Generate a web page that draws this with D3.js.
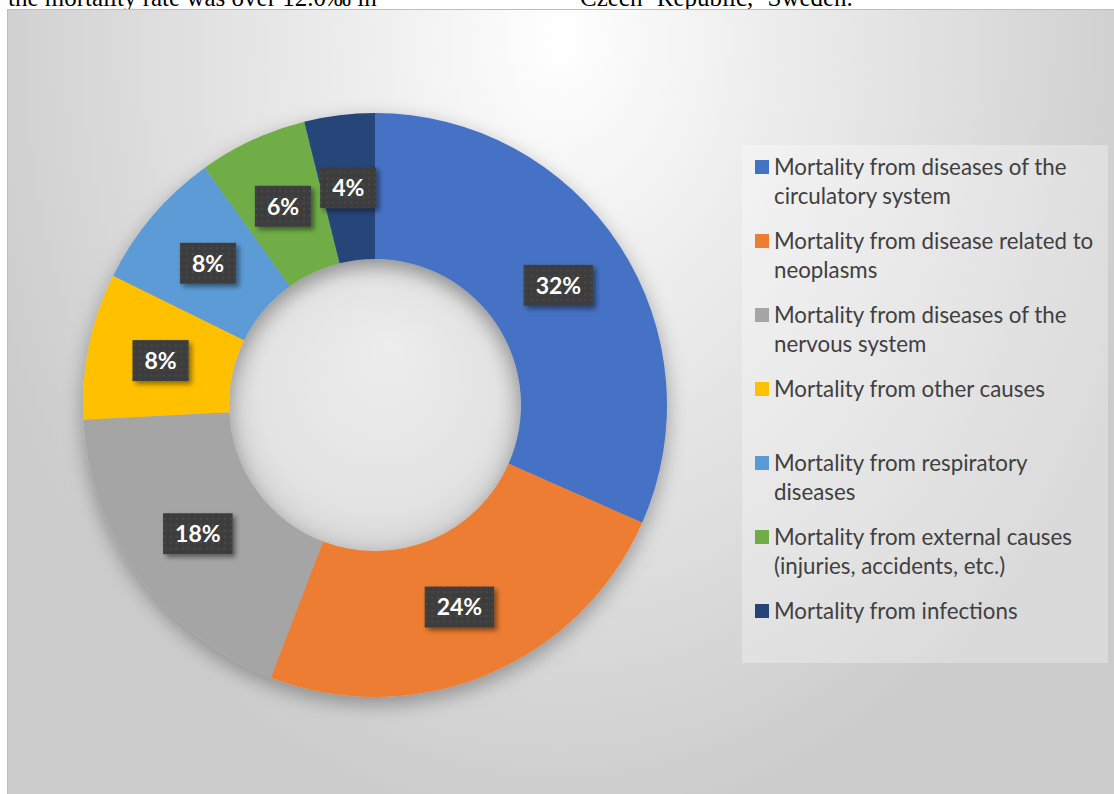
<!DOCTYPE html>
<html>
<head>
<meta charset="utf-8">
<script src="https://cdn.jsdelivr.net/npm/d3@7"></script>
<style>
  body { margin: 0; background: #fff; }
  svg { display: block; }
</style>
</head>
<body>
<svg id="chart_svg" width="1114" height="794"></svg>
<script>
// causes of death, share of total (%)
const categories = [
    ["Mortality from diseases of the", "circulatory system"],
    ["Mortality from disease related to", "neoplasms"],
    ["Mortality from diseases of the", "nervous system"],
    ["Mortality from other causes"],
    ["Mortality from respiratory", "diseases"],
    ["Mortality from external causes", "(injuries, accidents, etc.)"],
    ["Mortality from infections"]
];
const values = [31.6, 24.2, 18.4, 8.1, 7.8, 6.0, 3.9];
const colors = ['#4472C4', '#ED7D31', '#A5A5A5', '#FFC000', '#5B9BD5', '#70AD47', '#264478'];

// text from the page above the chart (cut off by the crop)
const topTexts = ["the mortality rate was over 12.0\u2030 in", "Czech Republic, Sweden."];
const topTextX = [8, 580];
const topTextW = [364, 292];

const svg = d3.select("#chart_svg");
const defs = svg.append("defs");

// background radial gradient
const bg = defs.append("radialGradient")
    .attr("id", "bgGrad")
    .attr("gradientUnits", "userSpaceOnUse")
    .attr("cx", 560).attr("cy", 40).attr("r", 620)
    .attr("gradientTransform", "translate(560,40) scale(1,1.3) translate(-560,-40)");
bg.append("stop").attr("offset", 0).attr("stop-color", "#ffffff");
bg.append("stop").attr("offset", 0.3).attr("stop-color", "#efefef");
bg.append("stop").attr("offset", 0.65).attr("stop-color", "#dedede");
bg.append("stop").attr("offset", 1).attr("stop-color", "#cbcbcb");

// hole shading
const hole = defs.append("radialGradient")
    .attr("id", "holeGrad")
    .attr("cx", "50%").attr("cy", "50%").attr("r", "50%")
    .attr("fx", "55%").attr("fy", "30%");
hole.append("stop").attr("offset", 0).attr("stop-color", "#ededed");
hole.append("stop").attr("offset", 0.8).attr("stop-color", "#e3e3e3");
hole.append("stop").attr("offset", 1).attr("stop-color", "#d4d4d4");

// shadows
defs.append("filter").attr("id", "ringShadow")
    .attr("x", "-20%").attr("y", "-20%").attr("width", "140%").attr("height", "140%")
    .append("feDropShadow")
    .attr("dx", 0).attr("dy", 7).attr("stdDeviation", 10)
    .attr("flood-color", "#000").attr("flood-opacity", 0.33);
defs.append("filter").attr("id", "boxShadow")
    .attr("x", "-30%").attr("y", "-30%").attr("width", "170%").attr("height", "170%")
    .append("feDropShadow")
    .attr("dx", 3).attr("dy", 3).attr("stdDeviation", 2.5)
    .attr("flood-color", "#000").attr("flood-opacity", 0.45);

// dotted fill of the data labels
const pat = defs.append("pattern")
    .attr("id", "dots").attr("patternUnits", "userSpaceOnUse")
    .attr("width", 6).attr("height", 6);
pat.append("rect").attr("width", 6).attr("height", 6).attr("fill", "#3d3d3d");
pat.append("circle").attr("cx", 3).attr("cy", 3).attr("r", 0.8).attr("fill", "#5a5a5a");

// page text above the chart, justified
topTexts.forEach((t, i) => {
    const txt = svg.append("text")
        .attr("x", topTextX[i]).attr("y", 6)
        .style("font-family", "'Liberation Serif', 'Times New Roman', serif")
        .style("font-size", "25px")
        .text(t);
    const natural = txt.node().getComputedTextLength();
    const gaps = t.split(" ").length - 1;
    const extra = Math.min(8, Math.max(0, (topTextW[i] - natural) / gaps));
    txt.style("word-spacing", extra + "px");
});

// chart area
svg.append("rect")
    .attr("x", 7.5).attr("y", 9.5)
    .attr("width", 1120).attr("height", 800)
    .attr("fill", "url(#bgGrad)")
    .attr("stroke", "#bdbdbd").attr("stroke-width", 1);

const cx = 375, cy = 405;
const outerR = 292, innerR = 146;

const pie = d3.pie().sort(null).value(d => d);
const arcs = pie(values);
const arc = d3.arc().innerRadius(innerR).outerRadius(outerR);
const total = d3.sum(values);

const g = svg.append("g").attr("transform", `translate(${cx},${cy})`);

g.append("circle").attr("r", innerR + 1).attr("fill", "url(#holeGrad)");

g.append("g").attr("filter", "url(#ringShadow)")
    .selectAll("path")
    .data(arcs)
    .join("path")
    .attr("d", arc)
    .attr("fill", (d, i) => colors[i]);

// data labels
const labels = g.selectAll(".lbl")
    .data(arcs)
    .join("g")
    .attr("class", "lbl")
    .attr("transform", d => `translate(${arc.centroid(d)})`);

labels.append("rect").attr("class", "box");
labels.append("text")
    .attr("text-anchor", "middle")
    .attr("dy", "0.36em")
    .style("font-family", "Lato, 'Open Sans', sans-serif")
    .style("font-weight", "bold")
    .style("font-size", "23px")
    .attr("fill", "#fff")
    .text(d => Math.round(d.value / total * 100) + "%");

labels.each(function () {
    const grp = d3.select(this);
    const w = grp.select("text").node().getComputedTextLength() + 24;
    grp.select("rect.box")
        .attr("x", -w / 2).attr("y", -20.5)
        .attr("width", w).attr("height", 41)
        .attr("fill", "url(#dots)")
        .attr("filter", "url(#boxShadow)");
});

// legend
const legend = svg.append("g");
legend.append("rect")
    .attr("x", 742).attr("y", 145)
    .attr("width", 366).attr("height", 518)
    .attr("fill", "#ffffff").attr("fill-opacity", 0.3);

const itemStep = 74, lineStep = 29;
const items = legend.selectAll(".item")
    .data(categories)
    .join("g")
    .attr("class", "item")
    .attr("transform", (d, i) => `translate(755,${167 + i * itemStep})`);

items.append("rect")
    .attr("x", 0).attr("y", -7)
    .attr("width", 14).attr("height", 14)
    .attr("fill", (d, i) => colors[i]);

items.append("text")
    .style("font-family", "Lato, 'Open Sans', sans-serif")
    .style("font-size", "22.3px")
    .attr("fill", "#404040")
    .selectAll("tspan")
    .data(d => d)
    .join("tspan")
    .attr("x", 19)
    .attr("y", (d, j) => j * lineStep)
    .attr("dy", "0.35em")
    .text(d => d);
</script>
</body>
</html>
